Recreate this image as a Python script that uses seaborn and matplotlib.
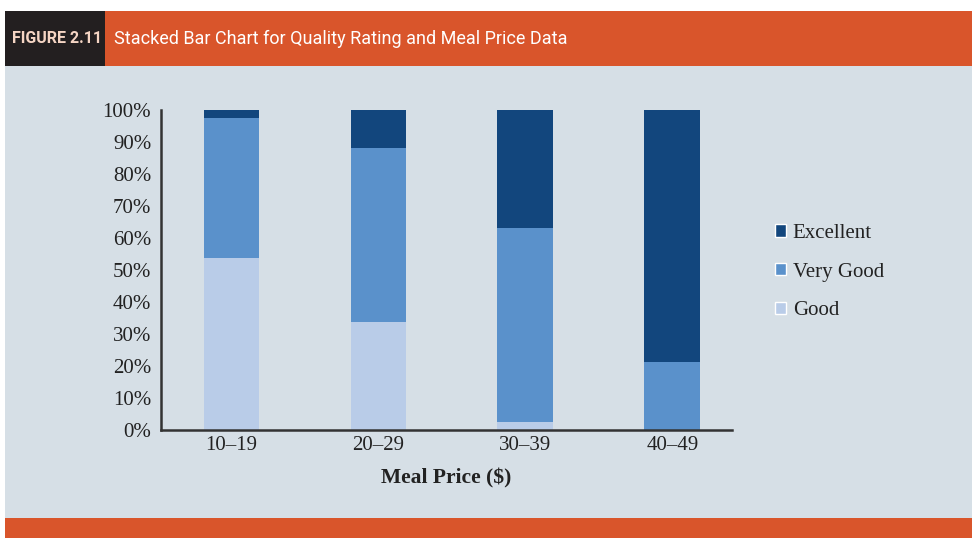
import matplotlib
matplotlib.use("Agg")
import matplotlib.pyplot as plt
import numpy as np
import pandas as pd
import seaborn as sns
from matplotlib.patches import Rectangle, Patch

# data (percent of restaurants in each price range)
prices = ["10\u201319", "20\u201329", "30\u201339", "40\u201349"]
good = [53.8, 33.9, 2.6, 0.0]
very_good = [43.6, 54.2, 60.5, 21.4]
excellent = [2.6, 11.9, 36.9, 78.6]

c_exc = "#12467D"
c_vg = "#5A91CB"
c_good = "#B9CCE8"
bg = "#D6DFE6"
orange = "#D9552B"

sns.set_style("white")
plt.rcParams["font.family"] = ["Liberation Serif", "DejaVu Serif"]

df = pd.DataFrame({"price": prices, "good": good, "very_good": very_good, "excellent": excellent})
df["top_vg"] = df["good"] + df["very_good"]
df["top_exc"] = df["top_vg"] + df["excellent"]

W, H = 972, 538
fig = plt.figure(figsize=(W / 100, H / 100), dpi=100, facecolor="white")

# background panels
def panel(x0, y0, x1, y1, color):
    # pixel coords from the top-left corner
    fig.patches.append(Rectangle((x0 / W, 1 - y1 / H), (x1 - x0) / W, (y1 - y0) / H,
                                 transform=fig.transFigure, facecolor=color,
                                 edgecolor="none", zorder=-10))

panel(5, 66, W, 518, bg)
panel(5, 518, W, H, orange)
panel(5, 11, W, 66, orange)
panel(5, 11, 105, 66, "#231F20")

hdr_font = ["Roboto", "DejaVu Sans"]
fig.text(12 / W, 1 - 38.5 / H, "FIGURE 2.11", color="#F5D5C4", fontsize=11.5, fontweight="bold",
         family=hdr_font, va="center", ha="left")
fig.text(114 / W, 1 - 38.5 / H, "Stacked Bar Chart for Quality Rating and Meal Price Data",
         color="white", fontsize=13, family=hdr_font, va="center", ha="left")

ax = fig.add_axes([161 / W, 108 / H, (732 - 161) / W, 320 / H])
ax.set_facecolor("none")

bar_kw = dict(saturation=1, width=0.38, linewidth=0, edgecolor="none", ax=ax)
sns.barplot(data=df, x="price", y="top_exc", color=c_exc, **bar_kw)
sns.barplot(data=df, x="price", y="top_vg", color=c_vg, **bar_kw)
sns.barplot(data=df, x="price", y="good", color=c_good, **bar_kw)

ax.set_ylim(0, 100)
ax.set_xlim(-0.48, 3.406)
ax.set_yticks(np.arange(0, 101, 10))
ax.set_yticklabels([f"{v}%" for v in range(0, 101, 10)])
ax.set_ylabel("")
ax.set_xlabel("Meal Price ($)", fontsize=15.5, fontweight="bold", color="#222222", labelpad=10)

for s in ["top", "right"]:
    ax.spines[s].set_visible(False)
for s in ["left", "bottom"]:
    ax.spines[s].set_color("#333333")
    ax.spines[s].set_linewidth(1.8)

ax.tick_params(axis="y", direction="in", length=7, width=1.8, color="#333333",
               labelsize=15, labelcolor="#222222", pad=7)
ax.tick_params(axis="x", length=0, labelsize=15, labelcolor="#222222", pad=4)

handles = [Patch(facecolor=c_exc, label="Excellent"),
           Patch(facecolor=c_vg, label="Very Good"),
           Patch(facecolor=c_good, label="Good")]
fig.legend(handles=handles, loc="center left", bbox_to_anchor=(775 / W, 1 - 272 / H),
           frameon=False, fontsize=15, handlelength=0.55, handleheight=0.55,
           handletextpad=0.3, labelspacing=0.95, borderpad=0, borderaxespad=0,
           labelcolor="#222222")

fig.savefig("out.png", dpi=100, facecolor="white")
